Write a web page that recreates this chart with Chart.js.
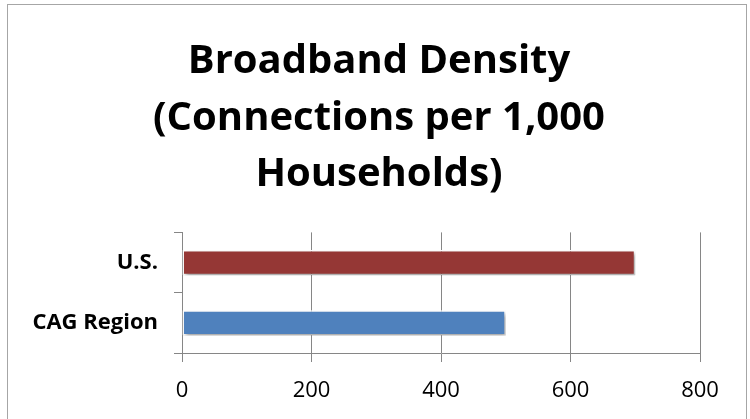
<!DOCTYPE html>
<html>
<head>
<meta charset="utf-8">
<script src="https://cdn.jsdelivr.net/npm/chart.js@4"></script>
<style>
  html, body { margin: 0; padding: 0; background: #fff; }
  #wrap { width: 750px; height: 419px; position: relative; }
</style>
</head>
<body>
<div id="wrap"><canvas id="chart" width="750" height="419"></canvas></div>
<script>
// chart data
var categories = ['U.S.', 'CAG Region'];
var connections = [700, 500];
var barColors = ['#953735', '#4f81bd'];
var titleLines = ['Broadband Density', '(Connections per 1,000', 'Households)'];
var axisMax = 800;
var axisStep = 200;

var gridColor = '#868686';

// grey frame around the whole chart, like the office chart border
var framePlugin = {
  id: 'frame',
  beforeDraw: function(chart) {
    var ctx = chart.ctx;
    ctx.save();
    ctx.fillStyle = '#fff';
    ctx.fillRect(0, 0, chart.width, chart.height);
    ctx.strokeStyle = '#a6a6a6';
    ctx.lineWidth = 1;
    ctx.strokeRect(7.5, 4.5, 739, 430);
    ctx.restore();
  }
};

// the original title sits a bit right of the plot's centre
var titleShift = {
  id: 'titleShift',
  afterLayout: function(chart) {
    var t = chart.titleBlock;
    if (!t) return;
    t.left += 29;
    t.right += 29;
  }
};

// soft drop shadow under the bars
var shadowPlugin = {
  id: 'barShadow',
  beforeDatasetsDraw: function(chart) {
    var ctx = chart.ctx;
    ctx.save();
    ctx.shadowColor = 'rgba(0,0,0,0.35)';
    ctx.shadowBlur = 4;
    ctx.shadowOffsetX = 2;
    ctx.shadowOffsetY = 3;
  },
  afterDatasetsDraw: function(chart) {
    chart.ctx.restore();
  }
};

new Chart(document.getElementById('chart'), {
  type: 'bar',
  data: {
    labels: categories,
    datasets: [{
      data: connections,
      backgroundColor: barColors,
      borderColor: '#ffffff',
      borderWidth: 1.5,
      borderSkipped: false,
      barPercentage: 0.42,
      categoryPercentage: 1
    }]
  },
  options: {
    indexAxis: 'y',
    responsive: false,
    animation: false,
    layout: { padding: { left: 0, right: 50, top: 0, bottom: 0 } },
    plugins: {
      legend: { display: false },
      tooltip: { enabled: false },
      title: {
        display: true,
        text: titleLines,
        color: '#000',
        font: { family: 'Open Sans', size: 40, weight: 'bold', lineHeight: 1.42 },
        padding: { top: 33, bottom: 29 }
      }
    },
    scales: {
      x: {
        min: 0,
        max: axisMax,
        afterFit: function(scale) { scale.height = 66; },
        ticks: {
          stepSize: axisStep,
          color: '#000',
          padding: 16,
          font: { family: 'Open Sans', size: 22 }
        },
        grid: { color: gridColor, tickLength: 9, lineWidth: 1 },
        border: { color: gridColor, width: 1 }
      },
      y: {
        afterFit: function(scale) { scale.width = 182; },
        ticks: {
          color: '#000',
          padding: 16,
          font: { family: 'Open Sans', size: 22, weight: 'bold' }
        },
        grid: { drawOnChartArea: false, color: gridColor, tickLength: 8 },
        border: { color: gridColor, width: 1 }
      }
    }
  },
  plugins: [framePlugin, titleShift, shadowPlugin]
});
</script>
</body>
</html>
